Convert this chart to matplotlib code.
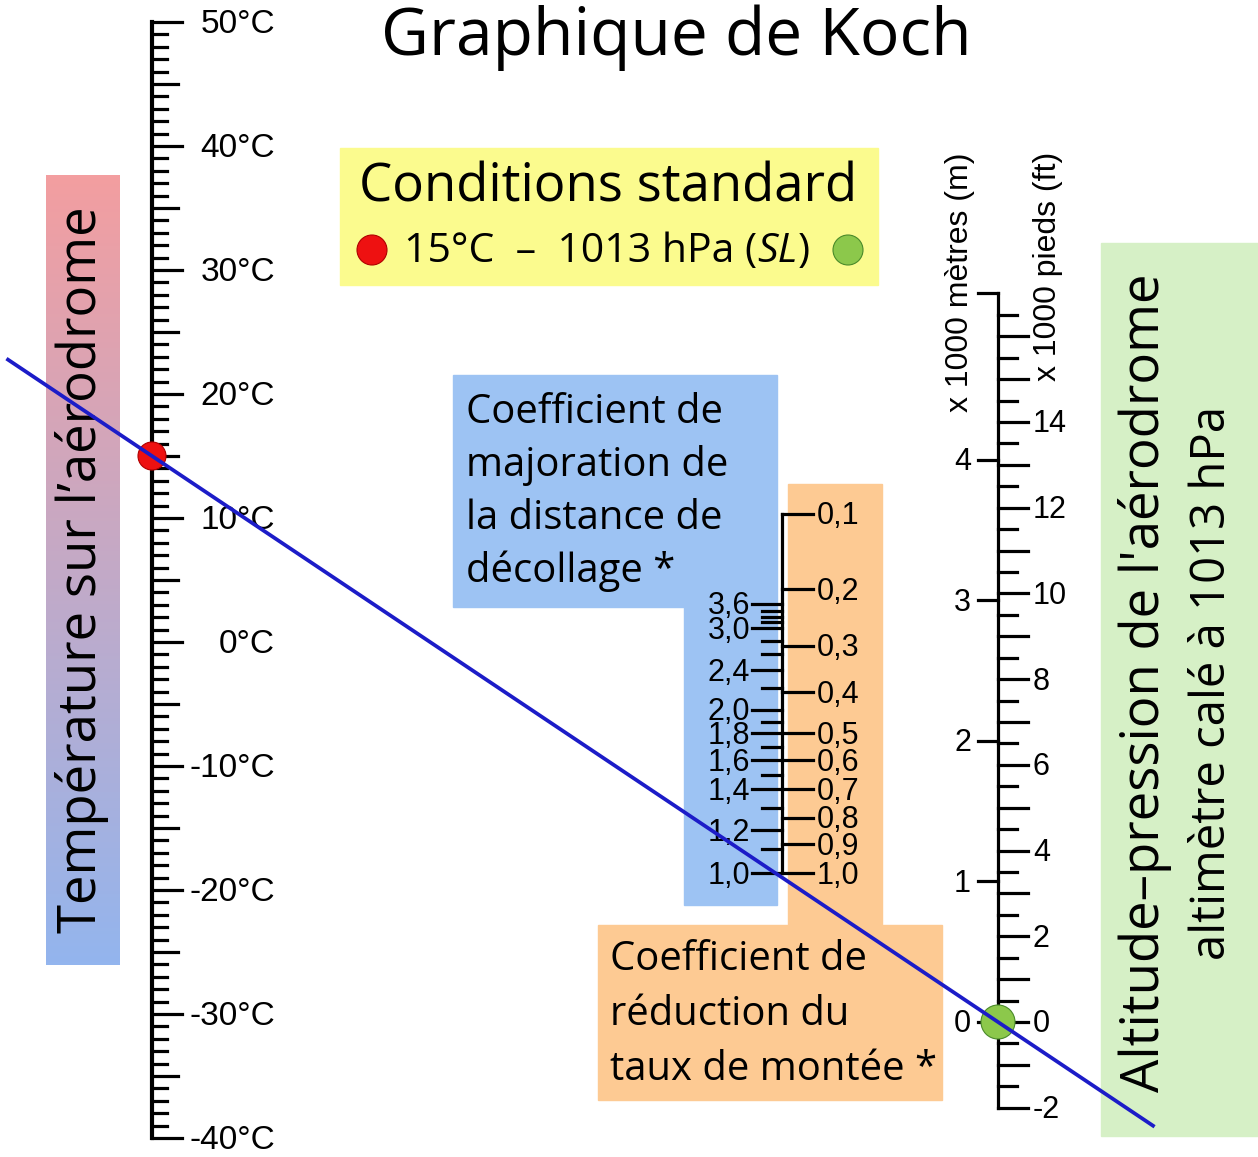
import numpy as np
import matplotlib
matplotlib.use('Agg')
import matplotlib.pyplot as plt
from matplotlib.patches import Polygon, Circle, Rectangle

# --- Données du graphique de Koch ---

# échelle des températures (°C)
temp_min, temp_max = -40, 50
temp_labels = [50, 40, 30, 20, 10, 0, -10, -20, -30, -40]
temp_standard = 15

# coefficient de majoration de la distance de décollage
# et altitude-densité correspondante (ft) lue sur l'échelle centrale
deco_coef = [1.0, 1.1, 1.2, 1.3, 1.4, 1.5, 1.6, 1.7, 1.8, 1.9, 2.0,
             2.2, 2.4, 2.6, 2.8, 3.0, 3.15, 3.3, 3.45, 3.6]
deco_alt = [0, 750, 1350, 2040, 2640, 3080, 3550, 3960, 4400, 4750, 5130,
            5820, 6380, 6890, 7300, 7700, 7890, 8050, 8240, 8460]
deco_major = [1.0, 1.2, 1.4, 1.6, 1.8, 2.0, 2.4, 3.0, 3.6]

# coefficient de réduction du taux de montée
montee_coef = [1.0, 0.9, 0.8, 0.7, 0.6, 0.5, 0.4, 0.3, 0.2, 0.1]
montee_alt = [0, 910, 1730, 2640, 3550, 4400, 5690, 7140, 8930, 11290]

# altitude-pression
alt_ft_min, alt_ft_max = -2, 17          # x 1000 ft
alt_ft_step = 0.5
alt_ft_labels = [-2, 0, 2, 4, 6, 8, 10, 12, 14]
alt_m_labels = [0, 1, 2, 3, 4]            # x 1000 m
alt_standard = 0

# --- Mise en page (coordonnées en pixels) ---
W, H = 1258, 1157
X_TEMP, X_MID, X_ALT = 152, 782, 998
DY = 2.5   # petit décalage vertical des chiffres pour les centrer sur les traits


def y_temp(t):
    return 22 + (temp_max - t) * 12.4


def y_alt(kft):
    return 1022 - kft * 42.86


def y_mid(ft):
    return 873 - ft * 0.0318


def fmt(v):
    return f'{v:.1f}'.replace('.', ',')


TXT = ['Open Sans', 'DejaVu Sans']
NUM = ['Liberation Sans', 'DejaVu Sans']
LW_AXIS = 3.0
LW_TICK = 2.3

fig = plt.figure(figsize=(W / 100, H / 100), dpi=100)
ax = fig.add_axes([0, 0, 1, 1])

# fonds colorés
grad_top = np.array([243, 158, 160]) / 255
grad_bot = np.array([147, 181, 238]) / 255
mix = np.linspace(0, 1, 256)[:, None, None]
grad = grad_top * (1 - mix) + grad_bot * mix
ax.imshow(grad, extent=(46, 120, 965, 175), aspect='auto', zorder=0)

ax.add_patch(Rectangle((340, 148), 538, 137, color='#fbfb8e', zorder=0))
ax.add_patch(Polygon([(453, 375), (777, 375), (777, 905), (684, 905),
                      (684, 607), (453, 607)], closed=True, color='#9dc3f3', zorder=0))
ax.add_patch(Polygon([(788, 484), (882, 484), (882, 925), (942, 925),
                      (942, 1100), (598, 1100), (598, 925), (788, 925)],
                     closed=True, color='#fdca93', zorder=0))
ax.add_patch(Rectangle((1101, 243), 157, 893, color='#d6f0c6', zorder=0))

# échelle des températures
ax.plot([X_TEMP, X_TEMP], [y_temp(temp_min), y_temp(temp_max)], color='black',
        lw=LW_AXIS, solid_capstyle='projecting', zorder=3)
for t in range(temp_min, temp_max + 1):
    length = 30 if t % 10 == 0 else (26 if t % 5 == 0 else 15)
    ax.plot([X_TEMP, X_TEMP + length], [y_temp(t)] * 2, color='black', lw=LW_TICK, zorder=3)
for t in temp_labels:
    ax.text(275, y_temp(t) + DY, f'{t}°C', ha='right', va='center', fontsize=24,
            family=NUM, zorder=4)

# échelle centrale
ax.plot([X_MID, X_MID], [y_mid(0), y_mid(max(montee_alt))], color='black',
        lw=LW_TICK, zorder=3)
for c, a in zip(deco_coef, deco_alt):
    length = 30 if c in deco_major else 20
    ax.plot([X_MID - length, X_MID], [y_mid(a)] * 2, color='black', lw=LW_TICK, zorder=3)
    if c in deco_major:
        ax.text(750, y_mid(a) + DY, fmt(c), ha='right', va='center', fontsize=22,
                family=NUM, zorder=4)
for c, a in zip(montee_coef, montee_alt):
    ax.plot([X_MID, X_MID + 31], [y_mid(a)] * 2, color='black', lw=LW_TICK, zorder=3)
    ax.text(817, y_mid(a) + DY, fmt(c), ha='left', va='center', fontsize=22,
            family=NUM, zorder=4)

# échelle des altitudes
ax.plot([X_ALT, X_ALT], [y_alt(alt_ft_min), y_alt(alt_ft_max)], color='black',
        lw=LW_TICK, zorder=3)
ax.plot([X_ALT - 20, X_ALT], [y_alt(alt_ft_max)] * 2, color='black', lw=LW_TICK, zorder=3)
for v in np.arange(alt_ft_min, alt_ft_max, alt_ft_step):
    length = 30 if float(v).is_integer() else 19
    ax.plot([X_ALT, X_ALT + length], [y_alt(v)] * 2, color='black', lw=LW_TICK, zorder=3)
for v in alt_ft_labels:
    ax.text(1033, y_alt(v) + DY, str(v), ha='left', va='center', fontsize=22,
            family=NUM, zorder=4)
for m in alt_m_labels:
    y = y_alt(m / 0.3048)
    ax.plot([X_ALT - 20, X_ALT], [y, y], color='black', lw=LW_TICK, zorder=3)
    ax.text(971, y + DY, str(m), ha='right', va='center', fontsize=22, family=NUM, zorder=4)
ax.text(960, 152, 'x 1000 mètres (m)', rotation=90, ha='center', va='top',
        fontsize=23, family=NUM)
ax.text(1048, 152, 'x 1000 pieds (ft)', rotation=90, ha='center', va='top',
        fontsize=23, family=NUM)

# droite des conditions standard
y0, y1 = y_temp(temp_standard), y_alt(alt_standard)
slope = (y1 - y0) / (X_ALT - X_TEMP)
xs = np.array([8, 1153])
ax.plot(xs, y0 + slope * (xs - X_TEMP), color='#1c1cc8', lw=2.7, zorder=6)
ax.add_patch(Circle((X_TEMP, y0), 14, fc='#ee1111', ec='#b00000', lw=0.8, zorder=5))
ax.add_patch(Circle((X_ALT, y1), 17, fc='#8cc84b', ec='#4a8a2a', lw=0.8, zorder=5))

# textes
ax.text(676, 38, 'Graphique de Koch', ha='center', va='center', fontsize=47.5, family=TXT)
ax.text(608, 188, 'Conditions standard', ha='center', va='center', fontsize=38, family=TXT)
ax.add_patch(Circle((372, 250), 15, fc='#ee1111', ec='#b00000', lw=0.8, zorder=2))
ax.add_patch(Circle((848, 250), 15, fc='#8cc84b', ec='#4a8a2a', lw=0.8, zorder=2))

ax.set_xlim(0, W)
ax.set_ylim(H, 0)
ax.axis('off')

part1 = ax.text(404, 252, '15°C  –  1013 hPa (', ha='left', va='center', fontsize=29.5, family=TXT)
fig.canvas.draw()
inv = ax.transData.inverted()
x_end = inv.transform(part1.get_window_extent().get_points())[1, 0]
part2 = ax.text(x_end, 252, 'SL', ha='left', va='center', fontsize=29.5, family=TXT, style='italic')
fig.canvas.draw()
x_end = inv.transform(part2.get_window_extent().get_points())[1, 0]
ax.text(x_end, 252, ')', ha='left', va='center', fontsize=29.5, family=TXT)

blue_lines = ['Coefficient de', 'majoration de', 'la distance de', 'décollage *']
for i, s in enumerate(blue_lines):
    ax.text(466, 413 + i * 52.7, s, ha='left', va='center', fontsize=28.8, family=TXT)
orange_lines = ['Coefficient de', 'réduction du', 'taux de montée *']
for i, s in enumerate(orange_lines):
    ax.text(610, 960 + i * 55, s, ha='left', va='center', fontsize=28.8, family=TXT)

ax.text(82, 570, 'Température sur l’aérodrome', rotation=90, ha='center', va='center',
        fontsize=38, family=TXT)
ax.text(1145, 683, "Altitude–pression de l'aérodrome", rotation=90, ha='center',
        va='center', fontsize=38, family=TXT)
ax.text(1212, 683, 'altimètre calé à 1013 hPa', rotation=90, ha='center', va='center',
        fontsize=34, family=TXT)

fig.savefig('out.png', dpi=100)
